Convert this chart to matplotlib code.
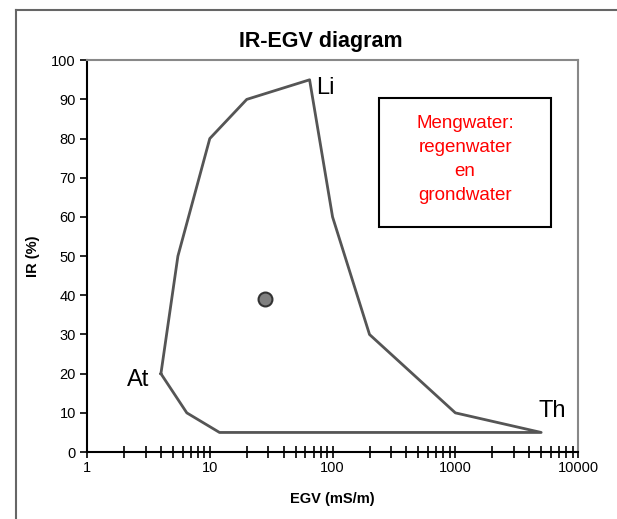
import matplotlib
matplotlib.use("Agg")
import matplotlib.pyplot as plt
from matplotlib.lines import Line2D
from matplotlib.ticker import LogLocator, FixedLocator, NullFormatter

plt.rcParams['font.family'] = ['Liberation Sans', 'DejaVu Sans']

# polygon outline of the IR-EGV field (EGV in mS/m, IR in %)
egv = [4, 6.5, 12, 5000, 1000, 200, 100, 65, 20, 10, 5.5, 4]
ir = [20, 10, 5, 5, 10, 30, 60, 95, 90, 80, 50, 20]

# sample point
sample_egv = [28]
sample_ir = [39]

x_ticks = [1, 10, 100, 1000, 10000]
y_ticks = list(range(0, 101, 10))

fig = plt.figure(figsize=(6.17, 5.19), dpi=100)
ax = fig.add_axes([0.141, 0.129, 0.796, 0.755])

ax.plot(egv, ir, color='#555555', lw=2, zorder=2)
ax.scatter(sample_egv, sample_ir, s=100, color='#808080', edgecolors='#333333',
           linewidths=1.5, zorder=3)

ax.set_xscale('log')
ax.set_xlim(1, 10000)
ax.set_ylim(0, 100)
ax.xaxis.set_major_locator(FixedLocator(x_ticks))
ax.set_xticklabels([str(t) for t in x_ticks])
ax.xaxis.set_minor_locator(LogLocator(base=10, subs=range(2, 10)))
ax.xaxis.set_minor_formatter(NullFormatter())
ax.set_yticks(y_ticks)

ax.tick_params(axis='x', which='both', direction='inout', length=9, width=1.2,
               labelsize=10.5, pad=2)
ax.tick_params(axis='y', direction='out', length=5, width=1.2, labelsize=10.5, pad=3)

for side in ('left', 'bottom'):
    ax.spines[side].set_color('black')
    ax.spines[side].set_linewidth(1.5)
for side in ('top', 'right'):
    ax.spines[side].set_color('#888888')
    ax.spines[side].set_linewidth(1.5)

ax.set_xlabel('EGV (mS/m)', fontsize=10.5, fontweight='bold', labelpad=12)
ax.set_ylabel('IR (%)', fontsize=10.5, fontweight='bold', labelpad=8)

# corner labels
ax.text(65 * 1.12, 93, 'Li', fontsize=17, va='center', ha='left')
ax.text(2.6, 18.5, 'At', fontsize=17, va='center', ha='center')
ax.text(6200, 10.5, 'Th', fontsize=17, va='center', ha='center')

ax.text(0.77, 0.747, 'Mengwater:\nregenwater\nen\ngrondwater',
        transform=ax.transAxes, ha='center', va='center', color='red',
        fontsize=13.5, linespacing=1.55, zorder=4)
ax.add_patch(plt.Rectangle((0.594, 0.575), 0.351, 0.328, transform=ax.transAxes,
                           fill=False, edgecolor='black', lw=1.5, zorder=4))

fig.text(0.52, 0.921, 'IR-EGV diagram', ha='center', va='center',
         fontsize=15.5, fontweight='bold')

# outer chart frame (left and top edges visible)
fig.add_artist(Line2D([16 / 617, 16 / 617], [0, 1 - 10 / 519],
                      transform=fig.transFigure, color='#666666', lw=1.5))
fig.add_artist(Line2D([16 / 617, 1], [1 - 10 / 519, 1 - 10 / 519],
                      transform=fig.transFigure, color='#666666', lw=1.5))

fig.savefig('out.png', dpi=100)
